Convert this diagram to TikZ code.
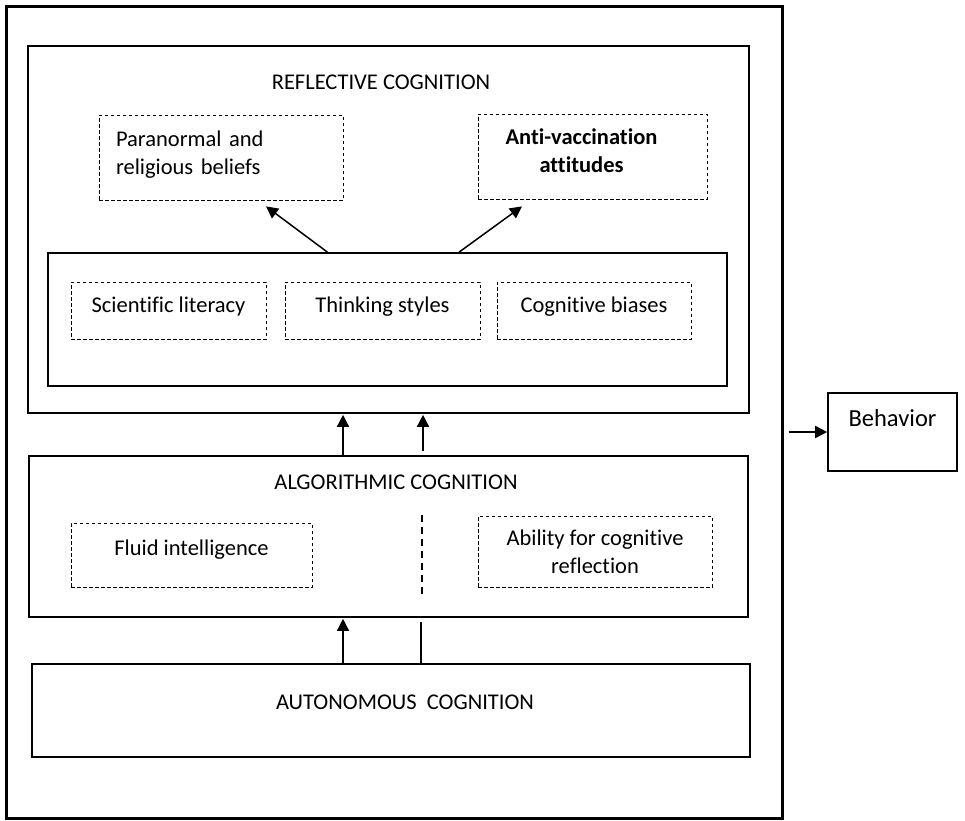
\documentclass[tikz,border=0pt]{standalone}
\usepackage{fontspec}
\setmainfont{Carlito}[Ligatures=NoCommon]
\usetikzlibrary{positioning,arrows.meta}

\newcommand{\lvlfont}{\fontsize{22.5}{28}\selectfont}

\tikzset{
  frame/.style={draw,line width=1.6pt,inner sep=0pt},
  sub/.style={draw,line width=0.8pt,dash pattern=on 3.5pt off 2.5pt,inner sep=0pt,align=center},
  arr/.style={-{Triangle[length=12pt,width=12pt]},line width=1.5pt},
  divider/.style={line width=1.5pt,dash pattern=on 7pt off 5pt}
}

\begin{document}
\begin{tikzpicture}[x=1pt,y=-1pt,font=\lvlfont]
\useasboundingbox (0,0) rectangle (965,820);
% outer frame
\node[frame,line width=3pt,minimum width=776pt,minimum height=812pt] (outer) at (394,412) {};

% reflective level
\node[frame,minimum width=721pt,minimum height=367pt] (refl) at (388.5,229.5) {};
\node (refltitle) at (381,82) {REFLECTIVE COGNITION};
\node[sub,minimum width=244pt,minimum height=85pt,text width=210pt,inner xsep=17pt,align=left,text depth=38pt] (para) at (221,157.5) {Paranormal and\\religious beliefs};
\node[sub,minimum width=229pt,minimum height=85pt] (anti) at (592.5,156.5) {};
\node[font=\lvlfont\bfseries,align=center] (antitext) at (581.5,151) {Anti-vaccination\\attitudes};
\node[frame,minimum width=679pt,minimum height=133pt] (inner) at (387.5,319.5) {};
\node[sub,minimum width=195pt,minimum height=57pt,text depth=12pt] (scilit) at (168.5,310.5) {Scientific literacy};
\node[sub,minimum width=195pt,minimum height=57pt,text depth=12pt] (styles) at (382.5,310.5) {Thinking styles};
\node[sub,minimum width=194pt,minimum height=57pt,text depth=12pt] (biases) at (594,310.5) {Cognitive biases};
\draw[arr] ([xshift=-60pt]inner.north) -- ([xshift=45pt,yshift=-6pt]para.south);
\draw[arr] ([xshift=71.5pt]inner.north) -- ([xshift=-70.5pt,yshift=-7pt]anti.south);

% algorithmic level
\node[frame,minimum width=719pt,minimum height=161pt] (algo) at (388.5,536.5) {};
\node (algotitle) at (396,482.5) {ALGORITHMIC COGNITION};
\node[sub,minimum width=241pt,minimum height=64pt,text depth=15pt] (fluid) at (191.5,555) {Fluid intelligence};
\node[sub,minimum width=234pt,minimum height=71pt] (ability) at (595,551.5) {Ability for cognitive\\reflection};
\draw[divider] (422,515) -- (422,595);
\draw[arr,shorten >=1pt] ([xshift=-45.5pt]algo.north) -- ([xshift=-45.5pt]refl.south);
\draw[arr,shorten <=4pt,shorten >=1pt] ([xshift=34.5pt]algo.north) -- ([xshift=34.5pt]refl.south);

% autonomous level
\node[frame,minimum width=718pt,minimum height=93pt] (auto) at (391,710.5) {};
\node (autotitle) at (405,702) {AUTONOMOUS\ \ COGNITION};
\draw[arr,shorten >=1pt] ([xshift=-48pt]auto.north) -- ([xshift=-45.5pt]algo.south);
\draw[line width=1.5pt] ([xshift=30pt]auto.north) -- ([xshift=32.5pt,yshift=-4pt]algo.south);

% behavior
\node[frame,minimum width=129pt,minimum height=78pt,text depth=28pt,font=\fontsize{24.5}{28}\selectfont] (beh) at (892.5,432) {Behavior};
\draw[arr,shorten <=5pt] (outer.east |- beh.west) -- (beh.west);
\end{tikzpicture}
\end{document}
